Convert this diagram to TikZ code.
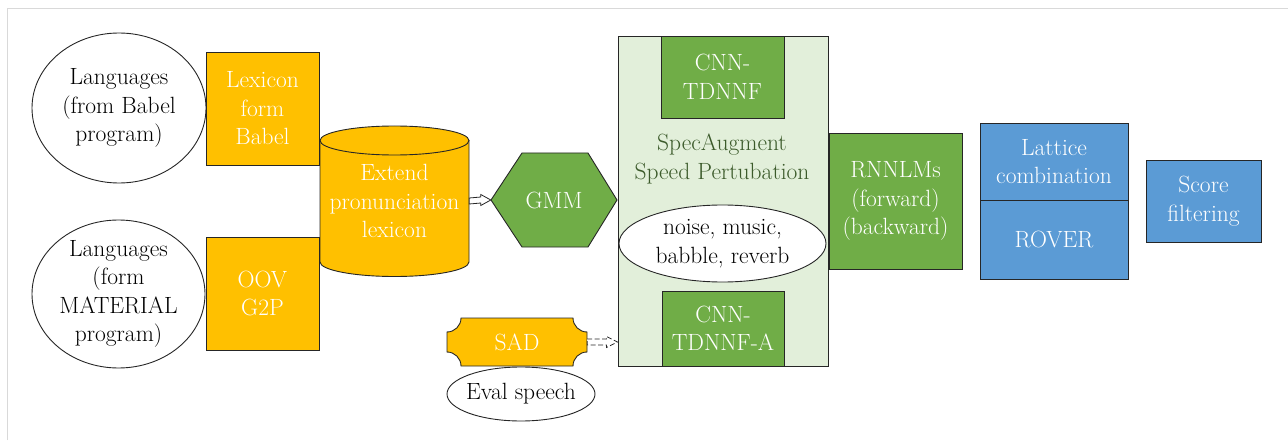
\documentclass[tikz,border=0pt]{standalone}
\usetikzlibrary{calc}
\definecolor{orng}{HTML}{FFC000}
\definecolor{grn}{HTML}{70AD47}
\definecolor{blu}{HTML}{5B9BD5}
\definecolor{lgrn}{HTML}{E2EFDA}
\definecolor{dgrn}{HTML}{3B5A2A}
\definecolor{frame}{HTML}{D9D9D9}
\definecolor{edge}{HTML}{262626}
\tikzset{
  txt/.style={font=\rmfamily\fontsize{23.5}{28.5}\selectfont, align=center, inner sep=0pt},
  obox/.style={txt, draw=edge, line width=0.9pt, fill=orng, text=white},
  gbox/.style={txt, draw=edge, line width=0.9pt, fill=grn, text=white},
  bbox/.style={txt, draw=edge, line width=0.9pt, fill=blu, text=white},
  shp/.style={draw=edge, line width=0.9pt},
}
\begin{document}
\begin{tikzpicture}[x=1pt,y=1pt]
\useasboundingbox (0,0) rectangle (1288,440);
\draw[frame, line width=1.2pt] (7.5,0) -- (7.5,431.5) -- (1288,431.5);

% left ellipses
\node[txt] (lang1) at (119,332) {Languages\\(from Babel\\program)};
\draw[shp, fill=white] (lang1.center) ellipse [x radius=87, y radius=75];
\node[txt] at (lang1.center) {Languages\\(from Babel\\program)};
\node[txt] (lang2) at (118.5,146) {Languages\\(form\\MATERIAL\\program)};
\draw[shp, fill=white] (lang2.center) ellipse [x radius=86.5, y radius=74];
\node[txt] at (lang2.center) {Languages\\(form\\MATERIAL\\program)};

% orange boxes
\node[obox, minimum width=113, minimum height=113] (lex) at (262.5,331.5) {Lexicon\\form\\Babel};
\node[obox, minimum width=113, minimum height=113] (oov) at (262.5,146.5) {OOV\\G2P};

% cylinder
\fill[orng] (320,299.5) -- (320,178) arc [start angle=180, end angle=360, x radius=74.5, y radius=14.5] -- (469,299.5) arc [start angle=0, end angle=180, x radius=74.5, y radius=14.5] -- cycle;
\draw[shp] (320,299.5) -- (320,178) arc [start angle=180, end angle=360, x radius=74.5, y radius=14.5] -- (469,299.5);
\draw[shp] (394.5,299.5) ellipse [x radius=74.5, y radius=14.5];
\node[txt, text=white, minimum width=149, minimum height=150] (cyl) at (394.5,239) {Extend\\pronunciation\\lexicon};

% GMM hexagon
\fill[grn, draw=edge, line width=0.9pt] (491,240) -- (522,287) -- (588,287) -- (617,240) -- (588,193) -- (522,193) -- cycle;
\node[txt, text=white, minimum width=126, minimum height=94] (gmm) at (554,240) {GMM};

% hollow arrow cylinder -> GMM
\draw[shp, fill=white, line width=0.8pt] (cyl.east) ++(0,3) -- ($(gmm.west)+(-10,3)$) -- ($(gmm.west)+(-10,5.5)$) -- (gmm.west) -- ($(gmm.west)+(-10,-5.5)$) -- ($(gmm.west)+(-10,-3)$) -- ($(cyl.east)+(0,-3)$) -- cycle;

% big light green box
\node[txt, draw=edge, line width=0.9pt, fill=lgrn, minimum width=210, minimum height=330] (am) at (723,239) {};
\node[gbox, minimum width=123, minimum height=82] (cnn1) at (722.5,363) {CNN-\\TDNNF};
\node[txt, text=dgrn] (spec) at (722,281) {SpecAugment\\Speed Pertubation};
\node[txt] (noise) at (722.5,196.5) {noise, music,\\babble, reverb};
\draw[shp, fill=white] (noise.center) ellipse [x radius=103.5, y radius=38.5];
\node[txt] at (noise.center) {noise, music,\\babble, reverb};
\node[gbox, minimum width=122, minimum height=75] (cnn2) at (723,111.5) {CNN-\\TDNNF-A};

% SAD plaque
\fill[orng, draw=edge, line width=0.9pt] (461,122) -- (573,122) arc [start angle=180, end angle=270, radius=14] -- (587,88) arc [start angle=90, end angle=180, radius=14] -- (461,74) arc [start angle=0, end angle=90, radius=14] -- (447,108) arc [start angle=270, end angle=360, radius=14] -- cycle;
\node[txt, text=white, minimum width=140, minimum height=48] (sad) at (517,98) {SAD};

% dashed hollow arrow SAD -> big box
\coordinate (amin) at (am.west |- sad.east);
\draw[shp, dash pattern=on 5pt off 2.5pt, fill=white, line width=0.8pt] ($(sad.east)+(0,3)$) -- ($(amin)+(-11,3)$) -- ($(amin)+(-11,5.5)$) -- (amin) -- ($(amin)+(-11,-5.5)$) -- ($(amin)+(-11,-3)$) -- ($(sad.east)+(0,-3)$) -- cycle;

% Eval speech
\node[txt] (eval) at (521,46) {Eval speech};
\draw[shp, fill=white] (eval.center) ellipse [x radius=74, y radius=27];
\node[txt] at (eval.center) {Eval speech};

% right side
\node[gbox, minimum width=133, minimum height=136] (rnn) at (895.5,239) {RNNLMs\\(forward)\\(backward)};
\node[bbox, minimum width=148, minimum height=77] (lat) at (1054,278.5) {Lattice\\combination};
\node[bbox, minimum width=148, minimum height=79] (rover) at (1054,200.5) {ROVER};
\node[bbox, minimum width=115, minimum height=82] (score) at (1203.5,239) {Score\\filtering};
\end{tikzpicture}
\end{document}
